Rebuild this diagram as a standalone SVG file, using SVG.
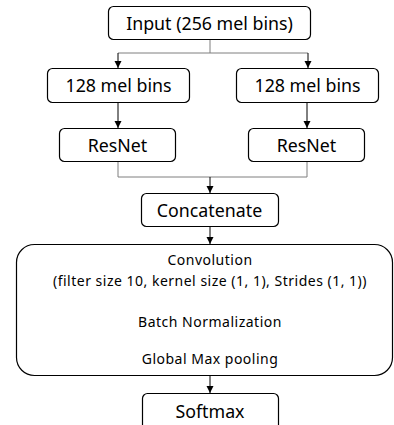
<svg xmlns="http://www.w3.org/2000/svg" width="394" height="425" viewBox="0 0 394 425">
<defs>
<marker id="ah" markerWidth="8" markerHeight="8" refX="7" refY="4" orient="auto" markerUnits="userSpaceOnUse" viewBox="0 0 8 8">
<path d="M0,0.5 L7,4 L0,7.5 Z" fill="#000"/>
</marker>
</defs>
<style>
.box{fill:#fff;stroke:#000;stroke-width:1.2}
.t{font-family:"Noto Sans","Open Sans",sans-serif;font-size:17.8px;fill:#000;text-anchor:middle}
.s{font-family:"Noto Sans","Open Sans",sans-serif;font-size:14px;letter-spacing:0.5px;fill:#000;text-anchor:middle}
.c{fill:none;stroke:#7f7f7f;stroke-width:1}
.a{fill:none;stroke:#000;stroke-width:1;marker-end:url(#ah)}
</style>
<rect width="394" height="425" fill="#fff"/>
<g id="connectors">
<path class="c" d="M210,39 V53 M118,53 H308"/>
<path class="a" d="M118,53 V68"/>
<path class="a" d="M308,53 V68"/>
<path class="a" d="M118,102 V128"/>
<path class="a" d="M307,102 V128"/>
<path class="c" d="M118,162 V177 H307 V162"/>
<path class="a" d="M210,177 V193"/>
<path class="a" d="M210,227 V244"/>
<path class="a" d="M210,376 V393"/>
</g>
<g id="input"><rect class="box" x="108.5" y="6.5" width="202" height="33" rx="5"/><text class="t" x="209.5" y="29.5">Input (256 mel bins)</text></g>
<g id="mel-left"><rect class="box" x="47.5" y="68.5" width="142" height="34" rx="5"/><text class="t" x="118.5" y="91.5">128 mel bins</text></g>
<g id="mel-right"><rect class="box" x="236.5" y="68.5" width="142" height="34" rx="5"/><text class="t" x="307.5" y="91.5">128 mel bins</text></g>
<g id="resnet-left"><rect class="box" x="59.5" y="128.5" width="116" height="33" rx="5"/><text class="t" x="117.5" y="151.5">ResNet</text></g>
<g id="resnet-right"><rect class="box" x="248.5" y="128.5" width="116" height="33" rx="5"/><text class="t" x="306.5" y="151.5">ResNet</text></g>
<g id="concat"><rect class="box" x="141.5" y="193.5" width="137" height="33" rx="5"/><text class="t" x="209.5" y="217">Concatenate</text></g>
<g id="conv"><rect class="box" x="16.5" y="244.5" width="376" height="131" rx="18"/>
<text class="s" x="210" y="265">Convolution</text>
<text class="s" x="210" y="286">(filter size 10, kernel size (1, 1), Strides (1, 1))</text>
<text class="s" x="210" y="327">Batch Normalization</text>
<text class="s" x="210" y="364">Global Max pooling</text>
</g>
<g id="softmax"><rect class="box" x="142.5" y="393.5" width="136" height="40" rx="5"/><text class="t" x="210" y="418">Softmax</text></g>
</svg>
